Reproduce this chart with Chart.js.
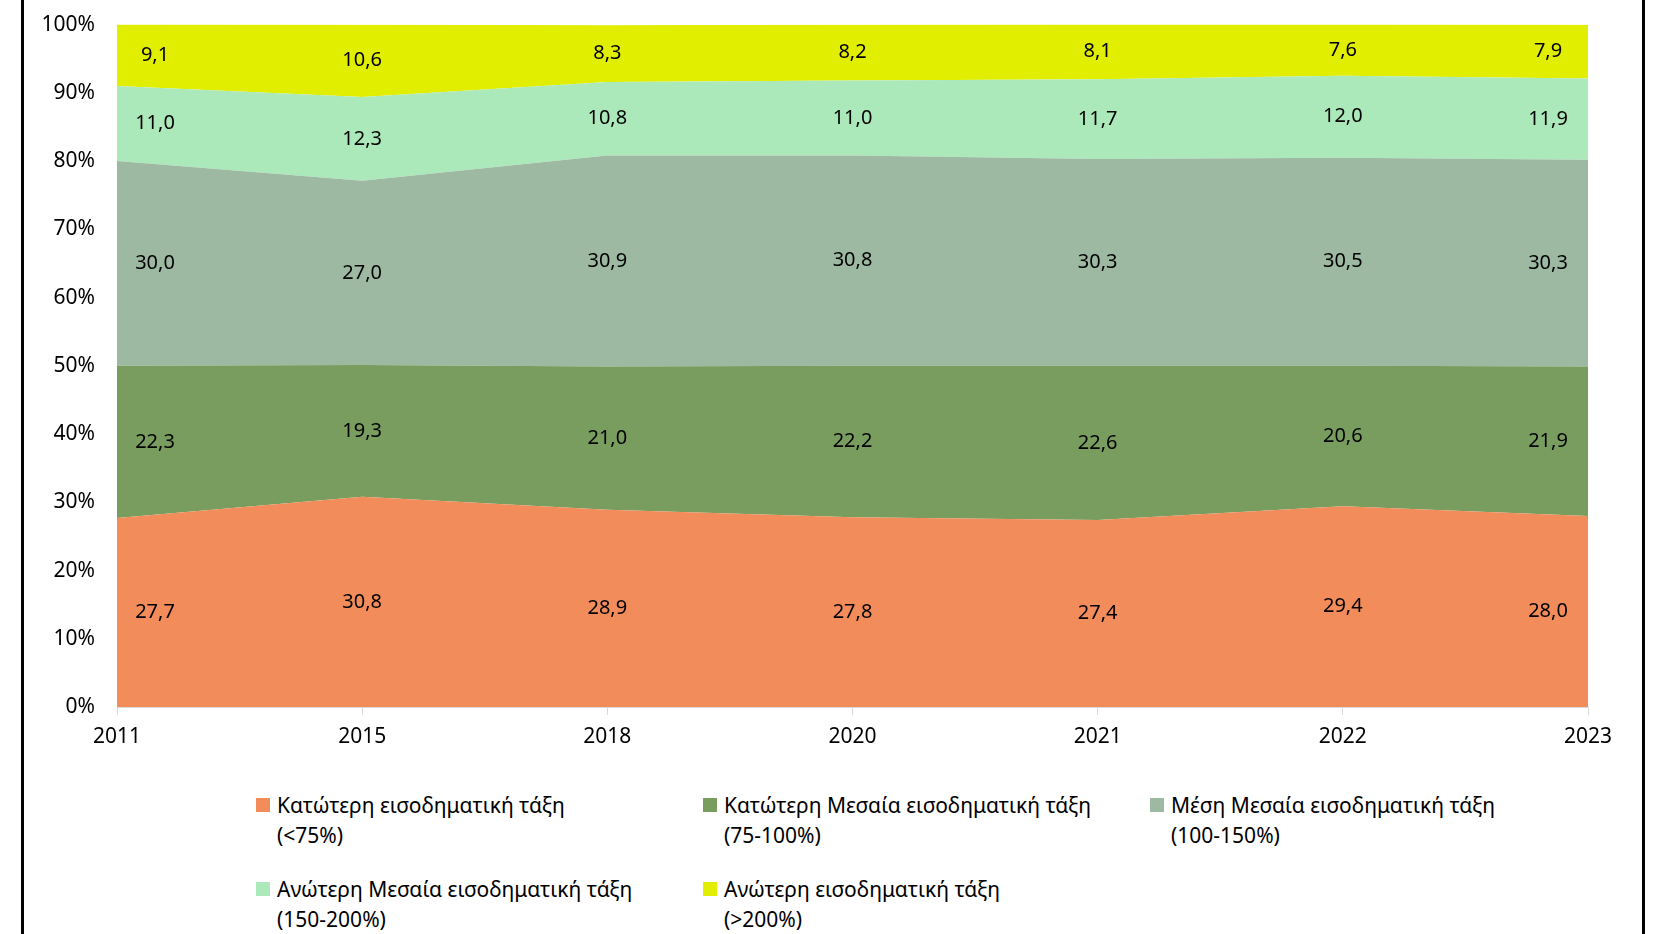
<!DOCTYPE html>
<html lang="el">
<head>
    <meta charset="UTF-8">
    <title>Εισοδηματικές τάξεις</title>
    <script src="https://cdn.jsdelivr.net/npm/chart.js"></script>
    <style>
        body { margin: 0; background: #fff; font-family: "Noto Sans", sans-serif; }
        #wrap { position: relative; width: 1653px; height: 934px; overflow: hidden; }
        .frame { position: absolute; top: 0; bottom: 0; width: 3px; background: #000; z-index: 2; }
        #chartBox { position: absolute; left: 0; top: -10px; width: 1653px; height: 780px; }
        .leg { position: absolute; font-size: 21px; line-height: 30px; color: #000; padding-left: 21px; white-space: nowrap; }
        .leg i { position: absolute; left: 0; top: 8px; width: 14px; height: 14px; }
    </style>
</head>
<body>
<div id="wrap">
    <div class="frame" style="left:21px"></div>
    <div class="frame" style="left:1642px"></div>
    <div id="chartBox"><canvas id="c"></canvas></div>
    <div id="legend"></div>
</div>

<script>
    const years = ['2011', '2015', '2018', '2020', '2021', '2022', '2023'];
    const seriesNames = [
        ['Κατώτερη εισοδηματική τάξη', '(<75%)'],
        ['Κατώτερη Μεσαία εισοδηματική τάξη', '(75-100%)'],
        ['Μέση Μεσαία εισοδηματική τάξη', '(100-150%)'],
        ['Ανώτερη Μεσαία εισοδηματική τάξη', '(150-200%)'],
        ['Ανώτερη εισοδηματική τάξη', '(>200%)']
    ];
    const lowClass      = [27.7, 30.8, 28.9, 27.8, 27.4, 29.4, 28.0];
    const lowerMiddle   = [22.3, 19.3, 21.0, 22.2, 22.6, 20.6, 21.9];
    const middleMiddle  = [30.0, 27.0, 30.9, 30.8, 30.3, 30.5, 30.3];
    const upperMiddle   = [11.0, 12.3, 10.8, 11.0, 11.7, 12.0, 11.9];
    const highClass     = [9.1, 10.6, 8.3, 8.2, 8.1, 7.6, 7.9];
    const yTicks = [0, 10, 20, 30, 40, 50, 60, 70, 80, 90, 100];

    const colors = ['#F28C5A', '#789D5F', '#9DB9A2', '#ABE9BA', '#E1EE00'];
    const allSeries = [lowClass, lowerMiddle, middleMiddle, upperMiddle, highClass];

    // legend (html, 3 columns)
    const legPos = [[256, 790], [703, 790], [1150, 790], [256, 874], [703, 874]];
    document.getElementById('legend').innerHTML = seriesNames.map((n, i) =>
        `<div class="leg" style="left:${legPos[i][0]}px;top:${legPos[i][1]}px"><i style="background:${colors[i]}"></i>${n[0]}<br>${n[1]}</div>`
    ).join('');

    // value labels in the middle of each band
    const bandLabels = {
        id: 'bandLabels',
        afterDatasetsDraw(chart) {
            const ctx = chart.ctx, xs = chart.scales.x, ys = chart.scales.y;
            ctx.save();
            ctx.font = '20px "Noto Sans"';
            ctx.fillStyle = '#000';
            ctx.textAlign = 'center';
            ctx.textBaseline = 'middle';
            const base = years.map(() => 0);
            allSeries.forEach(s => {
                s.forEach((v, j) => {
                    const mid = base[j] + v / 2;
                    base[j] += v;
                    let x = xs.getPixelForValue(j);
                    if (j === 0) x += 38;
                    if (j === years.length - 1) x -= 40;
                    ctx.fillText(v.toFixed(1).replace('.', ','), x, ys.getPixelForValue(Math.min(mid, 98)));
                });
            });
            ctx.restore();
        }
    };

    new Chart(document.getElementById('c'), {
        type: 'line',
        data: {
            labels: years,
            datasets: allSeries.map((s, i) => ({
                label: seriesNames[i].join(' '),
                data: s,
                backgroundColor: colors[i],
                borderWidth: 0,
                pointRadius: 0,
                tension: 0,
                fill: i === 0 ? 'origin' : '-1'
            }))
        },
        options: {
            responsive: true,
            maintainAspectRatio: false,
            animation: false,
            layout: { padding: { left: 0, right: 65, top: 14, bottom: 3 } },
            plugins: { legend: { display: false }, tooltip: { enabled: false } },
            scales: {
                x: {
                    grid: { drawOnChartArea: false, drawTicks: true, tickLength: 8, color: '#d9d9d9' },
                    border: { color: '#d9d9d9' },
                    ticks: { color: '#000', font: { family: 'Noto Sans', size: 21 }, padding: 9, maxRotation: 0, autoSkip: false },
                    afterFit(scale) { scale.height = 60; }
                },
                y: {
                    stacked: true,
                    min: 0, max: 100,
                    grid: { display: false, drawTicks: false },
                    border: { display: false },
                    afterBuildTicks(scale) { scale.ticks = yTicks.map(v => ({ value: v })); },
                    ticks: { color: '#000', font: { family: 'Noto Sans', size: 21 }, padding: 22, callback: v => v + '%' },
                    afterFit(scale) { scale.width = 117; }
                }
            }
        },
        plugins: [bandLabels]
    });
</script>
</body>
</html>
